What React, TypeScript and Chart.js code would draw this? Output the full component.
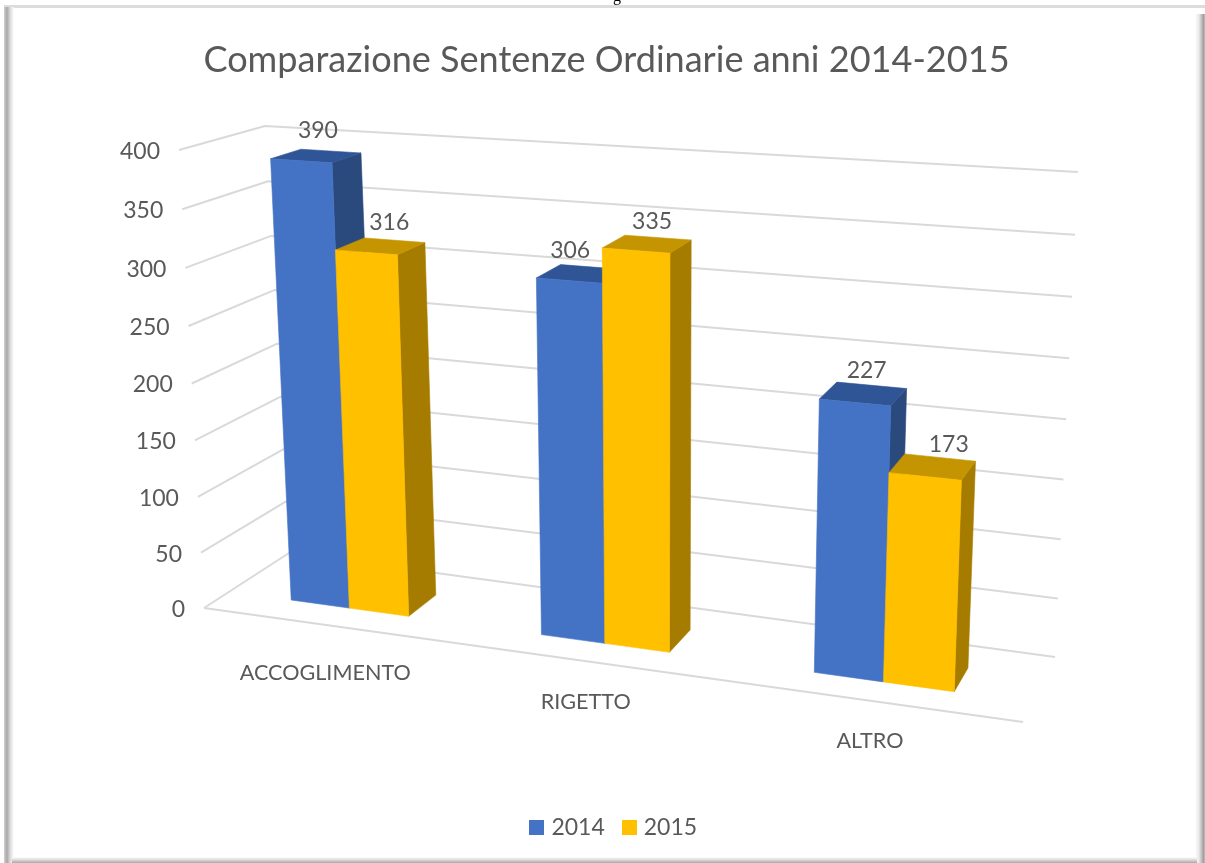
import React, { useEffect, useRef } from "react";
import { Chart, registerables } from "chart.js";

Chart.register(...registerables);

const CATEGORIES = ["ACCOGLIMENTO", "RIGETTO", "ALTRO"];
const SERIES_2014 = [390, 306, 227];
const SERIES_2015 = [316, 335, 173];
const TITLE = "Comparazione Sentenze Ordinarie anni 2014-2015";
const Y_MAX = 400;
const Y_STEP = 50;

const FONT = "Lato";
const TEXT = "#595959";
const GRID = "#D9D9D9";
const FACES = [
  { front: "#4472C4", top: "#2F5597", side: "#2A4A7E" },
  { front: "#FFC000", top: "#C49500", side: "#A67C00" },
];

// Corners of the 3D box of the plot on screen: f/b = front/back, l/r = left/right, b/t = bottom/top.
type P = [number, number];
const BOX: Record<string, P> = {
  flb: [204, 608], flt: [179, 150],
  frb: [1023, 722], frt: [1044, 208],
  blb: [289, 553], blt: [265, 126],
  brb: [1055, 657], brt: [1078, 172],
};
const PERSP_U = 1.14;
const PERSP_V = 1.04;
const BAR_Z_FRONT = 0.3;
const BAR_Z_BACK = 0.67;
const LABEL_Z = 0.74;
// Label placement offsets, in pixels, by series then category.
const VALUE_LABEL_DX = [[-24.5, -33, -14], [-16.5, -16, 0]];
const VALUE_LABEL_DY = [[-19, -14, -11], [-15, -14, -9]];
const CATEGORY_LABEL_DY = [48, 41, 40];

const warp = (t: number, k: number) => t / (t + k * (1 - t));
const mix = (a: P, b: P, t: number): P => [a[0] + (b[0] - a[0]) * t, a[1] + (b[1] - a[1]) * t];

function project(u: number, v: number, z: number): P {
  const U = warp(u, PERSP_U);
  const V = warp(v, PERSP_V);
  const front = mix(mix(BOX.flb, BOX.frb, U), mix(BOX.flt, BOX.frt, U), V);
  const back = mix(mix(BOX.blb, BOX.brb, U), mix(BOX.blt, BOX.brt, U), V);
  return mix(front, back, z);
}

function poly(ctx: CanvasRenderingContext2D, pts: P[], color: string) {
  ctx.beginPath();
  pts.forEach((p, i) => (i ? ctx.lineTo(p[0], p[1]) : ctx.moveTo(p[0], p[1])));
  ctx.closePath();
  ctx.fillStyle = color;
  ctx.fill();
  ctx.strokeStyle = color;
  ctx.lineWidth = 0.6;
  ctx.stroke();
}

function swatch(color: string) {
  const c = document.createElement("canvas");
  c.width = 15;
  c.height = 15;
  const g = c.getContext("2d")!;
  g.fillStyle = color;
  g.fillRect(0, 0, 15, 15);
  return c;
}

const plot3d = {
  id: "plot3d",
  afterLayout(chart: any) {
    // Legend sits a little right of the page centre.
    chart.legend.left += 9;
    chart.legend.right += 9;
  },
  beforeDatasetsDraw(chart: any) {
    const { ctx, chartArea: a, scales } = chart;
    const toU = (px: number) => (px - a.left) / (a.right - a.left);
    const toV = (py: number) => (a.bottom - py) / (a.bottom - a.top);
    const yS = scales.y;
    const xS = scales.x;
    ctx.save();

    // grid lines
    ctx.strokeStyle = GRID;
    ctx.lineWidth = 2;
    ctx.lineJoin = "round";
    yS.ticks.forEach((t: any) => {
      const v = toV(yS.getPixelForValue(t.value));
      const p0 = project(0, v, 0);
      const p1 = project(0, v, 1);
      const p2 = project(1, v, 1);
      ctx.beginPath();
      ctx.moveTo(p0[0], p0[1]);
      ctx.lineTo(p1[0], p1[1]);
      ctx.lineTo(p2[0], p2[1]);
      ctx.stroke();
      // value tick label
      ctx.fillStyle = TEXT;
      ctx.font = `23px ${FONT}`;
      ctx.textAlign = "right";
      ctx.textBaseline = "middle";
      ctx.fillText(String(t.value), p0[0] - 19, p0[1] + 1.5);
    });
    const f0 = project(0, 0, 0);
    const f1 = project(1, 0, 0);
    ctx.beginPath();
    ctx.moveTo(f0[0], f0[1]);
    ctx.lineTo(f1[0], f1[1]);
    ctx.stroke();

    // category labels
    CATEGORIES.forEach((label, i) => {
      const p = project(toU(xS.getPixelForValue(i)), 0, 0);
      ctx.fillStyle = TEXT;
      ctx.font = `21.6px ${FONT}`;
      ctx.textAlign = "center";
      ctx.textBaseline = "middle";
      ctx.fillText(label, p[0] - 1, p[1] + CATEGORY_LABEL_DY[i]);
    });

    // bars, from left to right
    const metas = chart.data.datasets.map((_: any, i: number) => chart.getDatasetMeta(i));
    CATEGORIES.forEach((_, c) => {
      metas.forEach((meta: any, s: number) => {
        const bar = meta.data[c];
        const c0 = FACES[s];
        const u0 = toU(bar.x - bar.width / 2);
        const u1 = toU(bar.x + bar.width / 2);
        const v = toV(bar.y);
        const zf = BAR_Z_FRONT;
        const zb = BAR_Z_BACK;
        poly(ctx, [project(u1, 0, zf), project(u1, 0, zb), project(u1, v, zb), project(u1, v, zf)], c0.side);
        poly(ctx, [project(u0, v, zf), project(u0, v, zb), project(u1, v, zb), project(u1, v, zf)], c0.top);
        poly(ctx, [project(u0, 0, zf), project(u1, 0, zf), project(u1, v, zf), project(u0, v, zf)], c0.front);
      });
    });

    // value labels
    metas.forEach((meta: any, s: number) => {
      meta.data.forEach((bar: any, c: number) => {
        const value = chart.data.datasets[s].data[c];
        const p = project(toU(bar.x), toV(bar.y), LABEL_Z);
        ctx.fillStyle = TEXT;
        ctx.font = `23px ${FONT}`;
        ctx.textAlign = "center";
        ctx.textBaseline = "middle";
        ctx.fillText(String(value), p[0] + 6 + VALUE_LABEL_DX[s][c], p[1] + VALUE_LABEL_DY[s][c]);
      });
    });

    ctx.restore();
    return false;
  },
};

const edge = (style: React.CSSProperties): React.CSSProperties => ({ position: "absolute", ...style });

export default function App() {
  const ref = useRef<HTMLCanvasElement>(null);
  useEffect(() => {
    document.body.style.margin = "0";
    const chart = new Chart(ref.current!, {
      type: "bar",
      data: {
        labels: CATEGORIES,
        datasets: [
          { label: "2014", data: SERIES_2014, backgroundColor: FACES[0].front, categoryPercentage: 0.48, barPercentage: 1 },
          { label: "2015", data: SERIES_2015, backgroundColor: FACES[1].front, categoryPercentage: 0.48, barPercentage: 1 },
        ],
      },
      options: {
        responsive: false,
        animation: false,
        layout: { padding: { left: 8, top: 39, bottom: 14, right: 0 } },
        scales: {
          x: { display: false },
          y: { display: false, min: 0, max: Y_MAX, ticks: { stepSize: Y_STEP } },
        },
        plugins: {
          title: {
            display: true,
            text: TITLE,
            color: TEXT,
            font: { family: FONT, size: 36.1, weight: "normal" },
            padding: { top: 0, bottom: 10 },
          },
          legend: {
            position: "bottom",
            labels: {
              color: TEXT,
              font: { family: FONT, size: 23 },
              usePointStyle: true,
              pointStyleWidth: 6,
              boxHeight: 15,
              padding: 21.5,
              generateLabels: (c: any) =>
                (Chart as any).defaults.plugins.legend.labels
                  .generateLabels(c)
                  .map((l: any, i: number) => ({ ...l, pointStyle: swatch(FACES[i].front) })),
            },
          },
          tooltip: { enabled: false },
        },
      },
      plugins: [plot3d],
    } as any);
    return () => chart.destroy();
  }, []);
  return (
    <div style={{ position: "absolute", left: 0, top: 0, width: 1205, height: 863, overflow: "hidden", background: "#fff" }}>
      <canvas ref={ref} width={1205} height={863} style={{ position: "absolute", left: 0, top: 0, display: "block" }} />
      <div style={edge({ left: 4, right: 0, top: 5, height: 3, background: "#dcdcdc" })} />
      <div style={edge({ left: 4, width: 10, top: 7, bottom: 0, background: "linear-gradient(to right,#d0d0d0 0%,#a8a8a8 30%,#d8d8d8 60%,#ffffff 100%)" })} />
      <div style={edge({ right: 0, width: 10, top: 14, bottom: 0, background: "linear-gradient(to right,#ffffff 0%,#e8e8e8 40%,#a0a0a0 85%,#c0c0c0 100%)" })} />
      <div style={edge({ left: 12, right: 8, bottom: 0, height: 6, background: "linear-gradient(to bottom,#ffffff 0%,#d8d8d8 50%,#a8a8a8 100%)" })} />
      <span style={{ position: "absolute", left: 613, top: -13, fontFamily: "Liberation Serif", fontSize: 16, color: "#000" }}>g</span>
    </div>
  );
}
